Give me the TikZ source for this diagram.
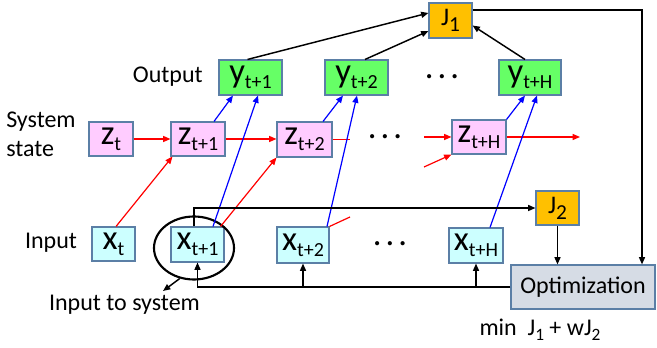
\documentclass[tikz,border=0pt]{standalone}
\usepackage{fontspec}
\setmainfont{Carlito}
\usetikzlibrary{arrows.meta,calc,shapes.geometric}
\definecolor{gb}{HTML}{66FF66}
\definecolor{pk}{HTML}{FFCCFF}
\definecolor{cy}{HTML}{CCFFFF}
\definecolor{jor}{HTML}{FFC000}
\definecolor{og}{HTML}{D6DCE5}
\definecolor{bord}{HTML}{5B7FA6}
\definecolor{pur}{HTML}{7030A0}
\newcommand\bxl[2]{{\fontsize{26}{26}\selectfont #1}\raisebox{-4.5pt}{\fontsize{15}{15}\selectfont #2}}
\newcommand\jl[2]{{\fontsize{19}{19}\selectfont #1}\raisebox{-4.5pt}{\fontsize{16}{16}\selectfont #2}}
\newcommand\tdots{.\hspace{3pt}.\hspace{3pt}.}
\begin{document}
\begin{tikzpicture}[x=0.75pt,y=-0.75pt,
  bx/.style={draw=bord, line width=0.8pt, inner sep=0pt, text=black},
  tw/.style 2 args={minimum width=#1*0.75pt, minimum height=#2*0.75pt},
  lab/.style={font=\fontsize{18}{21.75}\selectfont, inner sep=0pt},
  dotsl/.style={font=\fontsize{26}{26}\selectfont, inner sep=0pt},
  arr/.style={-{Triangle[length=5.5pt,width=4.5pt]}},
  blk/.style={draw=black, line width=1.1pt},
  rd/.style={draw=red, line width=0.9pt},
  bl/.style={draw=blue, line width=0.9pt},
  pp/.style={draw=pur, line width=0.9pt}]
\useasboundingbox (0,0) rectangle (657,348);
% boxes
\node[bx, fill=jor, tw={43}{35}] (J1) at (450.5,20.5) {\jl{J}{1}};
\node[bx, fill=gb, tw={63}{35}] (y1) at (250.5,77.5) {\bxl{y}{t+1}};
\node[bx, fill=gb, tw={63}{35}] (y2) at (356.5,77.5) {\bxl{y}{t+2}};
\node[bx, fill=gb, tw={62}{35}] (yH) at (530,77.5) {\bxl{y}{t+H}};
\node[bx, fill=pk, tw={44}{34}] (zt) at (111,139) {\bxl{z}{t}};
\node[bx, fill=pk, tw={54}{34}] (z1) at (198,139) {\bxl{z}{t+1}};
\node[bx, fill=pk, tw={55}{35}] (z2) at (304.5,139.5) {\bxl{z}{t+2}};
\node[bx, fill=pk, tw={54}{34}] (zH) at (479,137) {\bxl{z}{t+H}};
\node[bx, fill=cy, tw={43}{34}] (xt) at (113.5,244) {\bxl{x}{t}};
\node[bx, fill=cy, tw={53}{35}] (x1) at (197.5,244.5) {\bxl{x}{t+1}};
\node[bx, fill=cy, tw={52}{36}] (x2) at (303,245) {\bxl{x}{t+2}};
\node[bx, fill=cy, tw={54}{35}] (xH) at (476,245.5) {\bxl{x}{t+H}};
\node[bx, fill=jor, tw={43}{34}] (J2) at (557.5,208) {\jl{J}{2}};
\node[bx, fill=og, tw={144}{44}, font=\fontsize{18}{18}\selectfont] (opt) at (583,287) {Optimization};
% labels
\node[lab, anchor=east] (out) at (203,77) {Output};
\node[lab, anchor=west, align=left] (sys) at (6,134) {System\\state};
\node[lab] (inp) at (51,243) {Input};
\node[lab] (its) at (124.5,305) {Input to system};
\node[lab] (minj) at (540,330) {min\hspace{0.45em}J\raisebox{-4pt}{\fontsize{13}{13}\selectfont 1} + wJ\raisebox{-4pt}{\fontsize{13}{13}\selectfont 2}};
\node[dotsl] (d1) at (442,77) {\tdots};
\node[dotsl] (d2) at (385,137) {\tdots};
\node[dotsl] (d3) at (390,244) {\tdots};
% ellipse
\node[draw, ellipse, line width=1.6pt, inner sep=0pt, minimum width=80*0.75pt, minimum height=63*0.75pt] (circ) at (194,248) {};
% free-end coordinates
\coordinate (zs) at (350,139.5);
\coordinate (zin1) at (424,137);
\coordinate (zin2) at (424,167);
\coordinate (zout) at (580,137);
\coordinate (xs) at (350,217);
\coordinate (itsp) at (163,291);
% to J1
\draw[blk, arr] ($(y1.north)+(-3,0)$) -- ($(J1.west)+(0,-7.5)$);
\draw[blk, arr] ($(y2.north)+(8.5,0)$) -- ($(J1.west)+(0,10.5)$);
\draw[blk, arr] ($(yH.north)+(-5,0)$) -- ($(J1.east)+(0,5)$);
\draw[blk, arr] ($(J1.east)+(0,-10.5)$) -| ($(opt.north)+(59,0)$);
% red state arrows
\draw[rd, arr] (zt.east) -- (z1.west);
\draw[rd, arr] (z1.east) -- (z2.west |- z1.east);
\draw[rd] (z2.east) -- (zs);
\draw[rd, arr] (zin1) -- (zH.west);
\draw[rd, arr] (zin2) -- (zH.south west);
\draw[rd, arr] (zH.east) -- (zout);
\draw[rd, arr] ($(xt.north)+(2.5,0)$) -- ($(z1.south west)+(2,0)$);
\draw[rd, arr] ($(x1.north east)+(-4,0)$) -- (z2.south west);
\draw[rd] (x2.north east) -- (xs);
% blue output arrows
\draw[bl, arr] ($(z1.north)+(16,0)$) -- ($(y1.south)+(-17.5,0)$);
\draw[bl, arr] ($(x1.north)+(15.5,0)$) -- ($(y1.south)+(7.5,0)$);
\draw[bl, arr] ($(z2.north)+(18.5,0)$) -- ($(y2.south)+(-13.5,0)$);
\draw[bl, arr] ($(x2.north)+(24,0)$) -- ($(y2.south)+(0.5,0)$);
\draw[bl, arr] (zH.north east) -- ($(yH.south)+(-5,0)$);
\draw[bl, arr] ($(xH.north)+(14,0)$) -- ($(yH.south)+(7,0)$);
% J2 collection
\draw[blk, arr] ($(x1.north)+(-3.5,0)$) |- (J2.west);
\draw[pp] ($(x2.north)+(-1,0)$) -- ($(x2.north)+(-1,0)$ |- J2.west);
\draw[pp] ($(xH.north)+(1,0)$) -- ($(xH.north)+(1,0)$ |- J2.west);
\draw[blk, arr] (J2.south) -- (J2.south |- opt.north);
% feedback
\draw[blk, arr] (opt.west) -| (x1.south);
\draw[blk, arr] (x2.south |- opt.west) -- (x2.south);
\draw[blk, arr] (xH.south |- opt.west) -- (xH.south);
% ellipse pointer
\draw[blk, arr] (circ.245) -- (itsp);
\end{tikzpicture}
\end{document}
